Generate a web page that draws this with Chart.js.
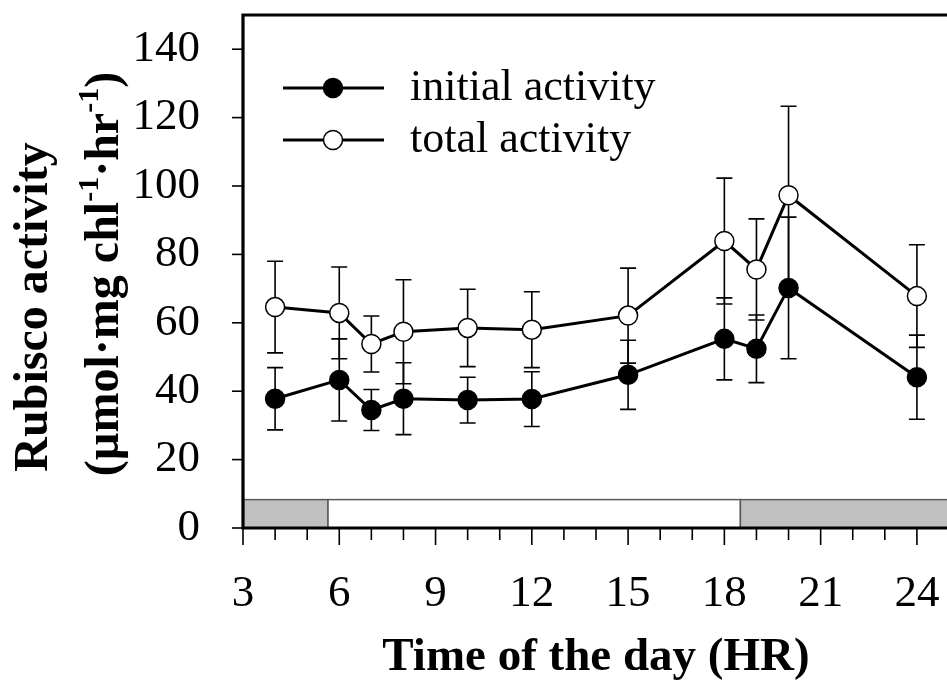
<!DOCTYPE html>
<html>
<head>
<meta charset="utf-8">
<script src="https://cdn.jsdelivr.net/npm/chart.js@4.4.1/dist/chart.umd.min.js"></script>
<style>
  html, body { margin: 0; padding: 0; background: #fff; overflow: hidden; }
  canvas { display: block; }
</style>
</head>
<body>
<canvas id="chart" width="960" height="684"></canvas>
<script>
// ===========================
// Dados
// ===========================
const hours = [4, 6, 7, 8, 10, 12, 15, 18, 19, 20, 24];
const initialActivity = [37.8, 43.3, 34.5, 37.8, 37.4, 37.7, 44.8, 55.3, 52.4, 70.2, 44.1];
const initialErr = [9.1, 12.0, 6.0, 10.5, 6.7, 8.0, 10.1, 12.0, 9.9, 20.7, 12.3];
const totalActivity = [64.6, 62.9, 53.8, 57.4, 58.5, 58.0, 62.1, 83.9, 75.6, 97.3, 67.8];
const totalErr = [13.4, 13.4, 8.2, 15.2, 11.3, 11.1, 13.9, 18.4, 14.8, 26.0, 15.0];

const xTicks = [3, 4, 5, 6, 7, 8, 9, 10, 11, 12, 13, 14, 15, 16, 17, 18, 19, 20, 21, 22, 23, 24];
const yTicks = [0, 20, 40, 60, 80, 100, 120, 140];

// periodo escuro / claro (faixa no rodape)
const phaseStart = [3, 5.65, 18.5];
const phaseEnd = [5.65, 18.5, 25];
const phaseDark = [true, false, true];
const phaseTop = 8.3;

const seriesLabels = ["initial activity", "total activity"];

const SERIF = "'Liberation Serif', 'Times New Roman', serif";

// ===========================
// Plugins de desenho
// ===========================
const phaseBar = {
  id: "phaseBar",
  beforeDatasetsDraw(chart) {
    const { ctx, scales: { x, y } } = chart;
    ctx.save();
    ctx.lineWidth = 1.5;
    ctx.strokeStyle = "#5a5a5a";
    for (let i = 0; i < phaseStart.length; i++) {
      const x0 = x.getPixelForValue(phaseStart[i]);
      const x1 = x.getPixelForValue(phaseEnd[i]);
      const y0 = y.getPixelForValue(phaseTop);
      const y1 = y.getPixelForValue(0);
      ctx.fillStyle = phaseDark[i] ? "#c0c0c0" : "#ffffff";
      ctx.fillRect(x0, y0, x1 - x0, y1 - y0);
      ctx.strokeRect(x0, y0, x1 - x0, y1 - y0);
    }
    ctx.restore();
  }
};

const errorBars = {
  id: "errorBars",
  beforeDatasetsDraw(chart) {
    const { ctx, scales: { x, y } } = chart;
    const sets = [[totalActivity, totalErr], [initialActivity, initialErr]];
    ctx.save();
    ctx.strokeStyle = "#000";
    ctx.lineWidth = 1.6;
    sets.forEach(([vals, errs]) => {
      hours.forEach((h, i) => {
        const px = x.getPixelForValue(h);
        const top = y.getPixelForValue(vals[i] + errs[i]);
        const bot = y.getPixelForValue(vals[i] - errs[i]);
        ctx.beginPath();
        ctx.moveTo(px, top); ctx.lineTo(px, bot);
        ctx.moveTo(px - 8, top); ctx.lineTo(px + 8, top);
        ctx.moveTo(px - 8, bot); ctx.lineTo(px + 8, bot);
        ctx.stroke();
      });
    });
    ctx.restore();
  }
};

const frame = {
  id: "frame",
  afterDatasetsDraw(chart) {
    const { ctx, chartArea: a, scales: { x, y } } = chart;
    ctx.save();
    ctx.strokeStyle = "#000";
    // marcas do eixo x (maiores nos rotulados)
    ctx.lineWidth = 1.6;
    xTicks.forEach(v => {
      const px = x.getPixelForValue(v);
      ctx.beginPath();
      ctx.moveTo(px, a.bottom);
      ctx.lineTo(px, a.bottom + (v % 3 === 0 ? 17 : 12));
      ctx.stroke();
    });
    // marcas do eixo y
    yTicks.forEach(v => {
      const py = y.getPixelForValue(v);
      ctx.beginPath();
      ctx.moveTo(a.left - 11, py);
      ctx.lineTo(a.left, py);
      ctx.stroke();
    });
    // moldura: topo, esquerda, base
    ctx.lineWidth = 3.2;
    ctx.beginPath();
    ctx.moveTo(a.left, a.top);
    ctx.lineTo(a.right, a.top);
    ctx.moveTo(a.left, a.top - 1.6);
    ctx.lineTo(a.left, a.bottom + 1.6);
    ctx.moveTo(a.left - 1.6, a.bottom);
    ctx.lineTo(a.right, a.bottom);
    ctx.stroke();
    ctx.restore();
  }
};

const customLegend = {
  id: "customLegend",
  afterDraw(chart) {
    const { ctx } = chart;
    const rows = [
      { y: 88, fill: "#000", text: seriesLabels[0] },
      { y: 140, fill: "#fff", text: seriesLabels[1] }
    ];
    ctx.save();
    rows.forEach(r => {
      ctx.strokeStyle = "#000";
      ctx.lineWidth = 3;
      ctx.beginPath();
      ctx.moveTo(283, r.y);
      ctx.lineTo(384, r.y);
      ctx.stroke();
      ctx.beginPath();
      ctx.arc(333, r.y, 9.5, 0, Math.PI * 2);
      ctx.fillStyle = r.fill;
      ctx.fill();
      ctx.lineWidth = 1.5;
      ctx.stroke();
      ctx.fillStyle = "#000";
      ctx.font = `44px ${SERIF}`;
      ctx.textBaseline = "middle";
      ctx.textAlign = "left";
      ctx.fillText(r.text, 410, r.y);
    });
    ctx.restore();
  }
};

// titulo do eixo y com sobrescritos
const yTitle = {
  id: "yTitle",
  afterDraw(chart) {
    const { ctx } = chart;
    const big = `bold 48px ${SERIF}`;
    const sup = `bold 30px ${SERIF}`;
    ctx.save();
    ctx.fillStyle = "#000";
    ctx.textBaseline = "alphabetic";
    ctx.textAlign = "left";

    // linha 1
    ctx.translate(47, 307);
    ctx.rotate(-Math.PI / 2);
    ctx.font = big;
    const l1 = "Rubisco activity";
    const w1 = ctx.measureText(l1).width;
    ctx.fillText(l1, -w1 / 2, 0);
    ctx.restore();

    // linha 2
    const runs = [
      ["(\u00b5mol\u00b7mg chl", big, 0],
      ["-1", sup, -20],
      ["\u00b7hr", big, 0],
      ["-1", sup, -20],
      [")", big, 0]
    ];
    let total = 0;
    runs.forEach(r => { ctx.font = r[1]; total += ctx.measureText(r[0]).width; });
    ctx.save();
    ctx.fillStyle = "#000";
    ctx.textBaseline = "alphabetic";
    ctx.textAlign = "left";
    ctx.translate(118, 274);
    ctx.rotate(-Math.PI / 2);
    let u = -total / 2;
    runs.forEach(r => {
      ctx.font = r[1];
      ctx.fillText(r[0], u, r[2]);
      u += ctx.measureText(r[0]).width;
    });
    ctx.restore();
  }
};

// zera o padding automatico das escalas para fixar a area do grafico
function noScalePadding(s) {
  s.paddingTop = 0;
  s.paddingBottom = 0;
  s.paddingLeft = 0;
  s.paddingRight = 0;
}

// ===========================
// Grafico
// ===========================
const ctx = document.getElementById("chart").getContext("2d");
new Chart(ctx, {
  type: "line",
  data: {
    datasets: [
      {
        label: seriesLabels[0],
        data: hours.map((h, i) => ({ x: h, y: initialActivity[i] })),
        borderColor: "#000",
        borderWidth: 3,
        pointRadius: 9.5,
        pointBackgroundColor: "#000",
        pointBorderColor: "#000",
        pointBorderWidth: 1.5,
        tension: 0
      },
      {
        label: seriesLabels[1],
        data: hours.map((h, i) => ({ x: h, y: totalActivity[i] })),
        borderColor: "#000",
        borderWidth: 3,
        pointRadius: 9.5,
        pointBackgroundColor: "#fff",
        pointBorderColor: "#000",
        pointBorderWidth: 1.5,
        tension: 0
      }
    ]
  },
  options: {
    responsive: false,
    animation: false,
    events: [],
    layout: { padding: { top: 15, right: 1, left: 0, bottom: 0 } },
    plugins: {
      legend: { display: false },
      tooltip: { enabled: false }
    },
    scales: {
      x: {
        type: "linear",
        min: 3,
        max: 25,
        afterBuildTicks: s => { s.ticks = xTicks.map(v => ({ value: v })); },
        afterFit: s => { s.height = 156; noScalePadding(s); },
        grid: { display: false },
        border: { display: false },
        ticks: {
          autoSkip: false,
          maxRotation: 0,
          padding: 31,
          color: "#000",
          font: { family: SERIF, size: 45 },
          callback: v => (v % 3 === 0 ? String(v) : "")
        },
        title: {
          display: true,
          text: "Time of the day (HR)",
          color: "#000",
          font: { family: SERIF, size: 47, weight: "bold", lineHeight: 1.1 },
          padding: { top: 0, bottom: 0 }
        }
      },
      y: {
        min: 0,
        max: 150,
        afterBuildTicks: s => { s.ticks = yTicks.map(v => ({ value: v })); },
        afterFit: s => { s.width = 243; noScalePadding(s); },
        grid: { display: false },
        border: { display: false },
        ticks: {
          padding: 35,
          color: "#000",
          font: { family: SERIF, size: 45 }
        }
      }
    }
  },
  plugins: [phaseBar, errorBars, frame, customLegend, yTitle]
});
</script>
</body>
</html>
